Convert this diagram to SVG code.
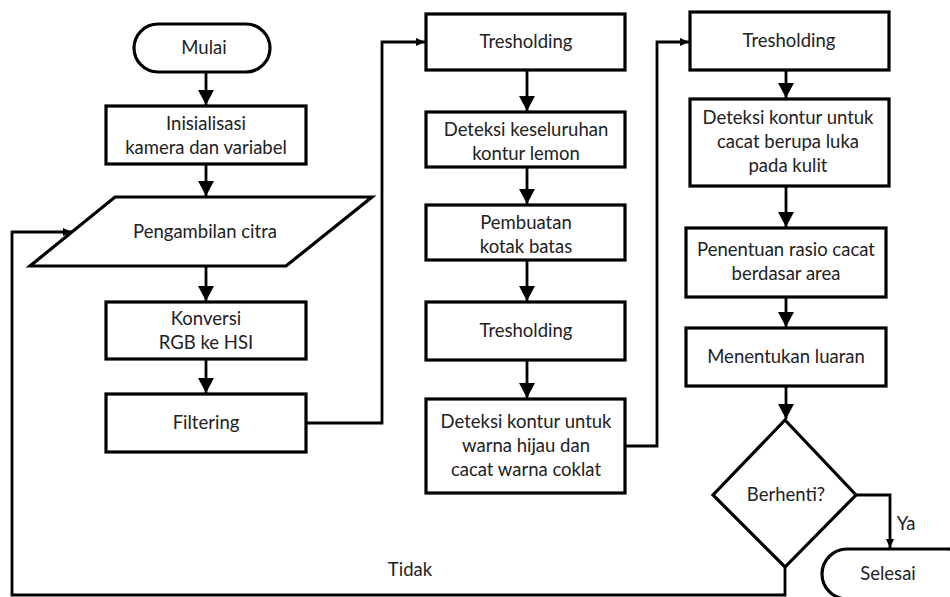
<svg xmlns="http://www.w3.org/2000/svg" width="950" height="597" viewBox="0 0 950 597">
<style>
.n{fill:#fff;stroke:#000;stroke-width:3.2}
.c{fill:none;stroke:#000;stroke-width:2.8}
text{font-family:Lato,"Open Sans","Liberation Sans",sans-serif;font-size:18.5px;fill:#222;text-anchor:middle}
</style>
<defs>
<marker id="a" markerUnits="userSpaceOnUse" markerWidth="16" markerHeight="16" refX="15" refY="8" orient="auto"><path d="M0,0 L15,8 L0,16 z" fill="#000"/></marker>
<marker id="s" markerUnits="userSpaceOnUse" markerWidth="10" markerHeight="10" refX="9" refY="5" orient="auto"><path d="M0,1 L9,5 L0,9 z" fill="#000"/></marker>
</defs>
<rect width="950" height="597" fill="#fff"/>
<g id="connectors">
<path class="c" d="M206,72 V105" marker-end="url(#a)"/>
<path class="c" d="M206,164 V196" marker-end="url(#a)"/>
<path class="c" d="M206,266 V301" marker-end="url(#a)"/>
<path class="c" d="M206,359 V393" marker-end="url(#a)"/>
<path class="c" d="M306,423 H382 V42 H425" marker-end="url(#s)"/>
<path class="c" d="M527,70 V111" marker-end="url(#a)"/>
<path class="c" d="M527,167 V204" marker-end="url(#a)"/>
<path class="c" d="M527,260 V301" marker-end="url(#a)"/>
<path class="c" d="M527,360 V398" marker-end="url(#a)"/>
<path class="c" d="M625,446 H657 V42 H689" marker-end="url(#s)"/>
<path class="c" d="M786,70 V98" marker-end="url(#a)"/>
<path class="c" d="M786,186 V227" marker-end="url(#a)"/>
<path class="c" d="M786,297 V327" marker-end="url(#a)"/>
<path class="c" d="M786,386 V419" marker-end="url(#a)"/>
<path class="c" d="M856,495 H890 V548" marker-end="url(#s)"/>
<path class="c" d="M785,567 V595 H12 V232 H72" marker-end="url(#s)"/>
<text x="906" y="530">Ya</text>
<text x="410" y="576">Tidak</text>
</g>
<g id="mulai"><rect class="n" x="134" y="24" width="136" height="48" rx="24"/><text x="204" y="54">Mulai</text></g>
<g id="inisialisasi"><rect class="n" x="106" y="106" width="200" height="58"/><text x="206" y="130">Inisialisasi</text><text x="206" y="154">kamera dan variabel</text></g>
<g id="pengambilan"><path class="n" d="M115,197 H372 L286,266 H30 Z"/><text x="205" y="238">Pengambilan citra</text></g>
<g id="konversi"><rect class="n" x="106" y="302" width="200" height="57"/><text x="206" y="325">Konversi</text><text x="206" y="349">RGB ke HSI</text></g>
<g id="filtering"><rect class="n" x="106" y="394" width="200" height="58"/><text x="206" y="429">Filtering</text></g>
<g id="tresholding1"><rect class="n" x="426" y="14" width="199" height="56"/><text x="526" y="48">Tresholding</text></g>
<g id="deteksi-keseluruhan"><rect class="n" x="426" y="112" width="199" height="55"/><text x="526" y="136">Deteksi keseluruhan</text><text x="526" y="160">kontur lemon</text></g>
<g id="pembuatan"><rect class="n" x="426" y="205" width="199" height="55"/><text x="526" y="229">Pembuatan</text><text x="526" y="253">kotak batas</text></g>
<g id="tresholding2"><rect class="n" x="426" y="302" width="199" height="58"/><text x="526" y="337">Tresholding</text></g>
<g id="deteksi-warna"><rect class="n" x="426" y="399" width="199" height="94"/><text x="526" y="428">Deteksi kontur untuk</text><text x="526" y="452">warna hijau dan</text><text x="526" y="476">cacat warna coklat</text></g>
<g id="tresholding3"><rect class="n" x="690" y="12" width="199" height="58"/><text x="789" y="47">Tresholding</text></g>
<g id="deteksi-luka"><rect class="n" x="690" y="99" width="199" height="87"/><text x="788" y="124">Deteksi kontur untuk</text><text x="788" y="148">cacat berupa luka</text><text x="788" y="172">pada kulit</text></g>
<g id="penentuan"><rect class="n" x="686" y="228" width="200" height="69"/><text x="786" y="256">Penentuan rasio cacat</text><text x="786" y="280">berdasar area</text></g>
<g id="menentukan"><rect class="n" x="686" y="328" width="200" height="58"/><text x="786" y="363">Menentukan luaran</text></g>
<g id="berhenti"><path class="n" d="M785,420 L856,495 L785,567 L713,495 Z"/><text x="786" y="501">Berhenti?</text></g>
<g id="selesai"><rect class="n" x="822" y="549" width="150" height="50" rx="25"/><text x="888" y="580">Selesai</text></g>
</svg>
